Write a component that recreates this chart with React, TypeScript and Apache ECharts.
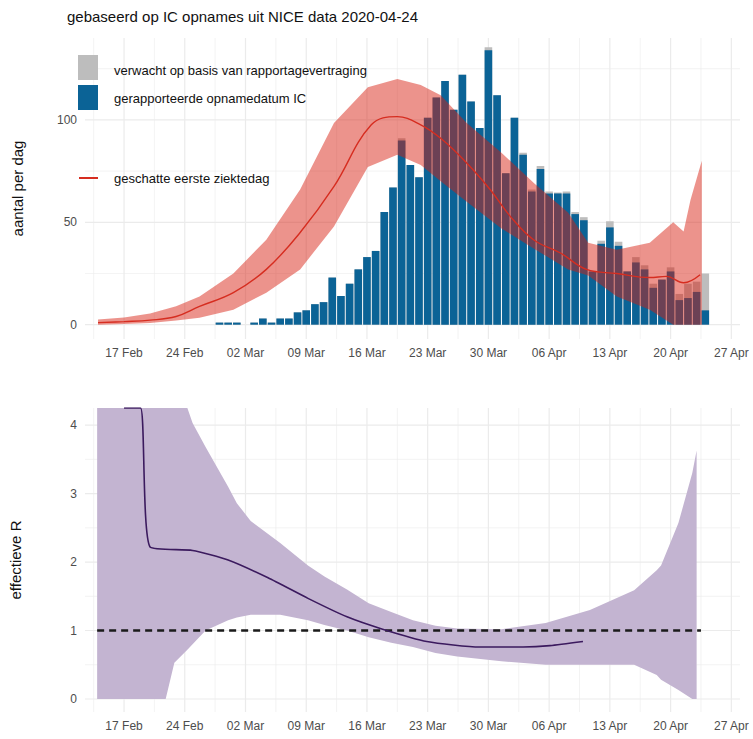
import React, { useEffect, useRef } from "react";
import * as echarts from "echarts";

// day 0 = 17 Feb 2020
const barStartDay = 11; // 28 Feb
const reported = [1,1,1,0,1,3,1,3,3,6,7,10,11,23,14,20,27,33,36,55,67,90,78,72,101,111,119,105,122,109,96,134,112,74,101,83,65,76,64,64,64,54,51,26,39.5,47.5,38.5,26,30.4,27,18,22,26,12,13,16,7];
const expected = [1,1,1,0,1,3,1,3,3,6,7,10,11,23,14,20,27,33,36,55,67,91,78,72,101,111,119,105,122,109,96,135.5,112,74,101,84,66,77.5,65,64.5,65,55,52.5,26,41,50.5,40.5,26,33,29,20,22,28,15,20,21,25];

const onsetDays = [-3,0,3,6,8.7,12.6,16.4,20.3,24.2,28.5,31.5,34.2,36.5,39.5,42.2,44.5,47.2,50.3,53.3,56.8,60.6,62.5,64.5,66.4];
const onsetMid = [1,1.5,2.2,4,8.9,15.6,27,45,67.5,97.6,101.6,97.6,91,79,66,53,41.5,35,27,25,23,23.6,20.5,24.4];
const onsetBandDays = [-3,0,3,6,8.7,12.6,16.4,20.3,24.2,28.1,31.5,34.2,36.5,39.5,43.5,47.3,51.2,53.5,56.8,60.6,63.3,64.5,65.3,66.6];
const onsetHi = [2.5,3.5,5.5,9,13.8,25,41.5,66,98.5,116,120,117,112,98.5,84,69,54.6,40,36.6,40,50,45.5,61,80];
const onsetLo = [0,0.3,0.8,2,3.4,7.3,15.6,27,48,77,83,78,70,60,47,37,27,24,13.8,7.3,0,0,0,0];

const rDays = [0,1.9,3.0,7.9,12,16.6,21.2,25.7,29.8,34.9,41,46,49.1,52.9];
const rMid = [4.25,4.25,2.22,2.17,2.03,1.77,1.47,1.2,1.02,0.84,0.76,0.76,0.78,0.84];
const rBandDays = [-3.1,4.8,5.8,7.3,7.9,9.4,12,13,14.6,18,21.2,23.1,25.7,28.2,30.8,33.3,35.9,38.4,43.5,48.6,53.7,58.8,61.4,61.9,63.9,65.5,66];
const rHi = [4.25,4.25,4.25,4.25,4.03,3.68,3.1,2.86,2.6,2.28,1.95,1.79,1.6,1.4,1.27,1.15,1.07,1.03,1.02,1.11,1.3,1.59,1.88,1.95,2.57,3.3,3.63];
const rLo = [0,0,0.53,0.72,0.8,1.0,1.15,1.19,1.23,1.23,1.15,1.08,1.0,0.9,0.82,0.76,0.67,0.62,0.55,0.5,0.5,0.5,0.35,0.28,0.13,0,0];
const refDays = [-3.1, 66.5];
const refValue = [1, 1];

const weekTicks = [0,7,14,21,28,35,42,49,56,63,70];
const topMajor = [0,50,100];
const topMinor = [25,75,125];
const botMajor = [0,1,2,3,4];
const botMinor = [0.5,1.5,2.5,3.5];

const MONTHS = ["Jan","Feb","Mar","Apr","May"];
function fmtDay(d: number) {
  const dt = new Date(Date.UTC(2020, 1, 17 + d));
  return String(dt.getUTCDate()).padStart(2, "0") + " " + MONTHS[dt.getUTCMonth()];
}

const FONT = "Liberation Sans";
const GRID_C = "#ebebeb";

function gridLines(xi: number, yi: number, yMajor: number[], yMinor: number[], xr: number[], yr: number[]) {
  const vMinor: number[] = [];
  for (let d = -3.5; d <= 70.1; d += 7) vMinor.push(d);
  return {
    type: "custom", xAxisIndex: xi, yAxisIndex: yi, z: 0, silent: true,
    data: [[xr[0], yr[0]]],
    renderItem: (params: any, api: any) => {
      const kids: any[] = [];
      const vline = (v: number, w: number) => {
        const a = api.coord([v, yr[0]]), b = api.coord([v, yr[1]]);
        kids.push({ type: "line", shape: { x1: a[0], y1: a[1], x2: b[0], y2: b[1] }, style: { stroke: GRID_C, lineWidth: w } });
      };
      const hline = (v: number, w: number) => {
        const a = api.coord([xr[0], v]), b = api.coord([xr[1], v]);
        kids.push({ type: "line", shape: { x1: a[0], y1: a[1], x2: b[0], y2: b[1] }, style: { stroke: GRID_C, lineWidth: w } });
      };
      vMinor.forEach((v) => vline(v, 0.6));
      yMinor.forEach((v) => hline(v, 0.6));
      weekTicks.forEach((v) => vline(v, 1.2));
      yMajor.forEach((v) => hline(v, 1.2));
      return { type: "group", children: kids };
    },
  };
}

function band(xi: number, yi: number, xs: number[], lo: number[], hi: number[], color: string, z: number) {
  return {
    type: "custom", xAxisIndex: xi, yAxisIndex: yi, z, silent: true,
    data: xs.map((x, i) => [x, lo[i], hi[i]]),
    encode: { x: 0, y: [1, 2] },
    renderItem: (params: any, api: any) => {
      if (params.dataIndex !== 0) return null;
      const top = xs.map((x, i) => api.coord([x, hi[i]]));
      const bot = xs.map((x, i) => api.coord([x, lo[i]])).reverse();
      return { type: "polygon", shape: { points: [...top, ...bot] }, style: { fill: color } };
    },
  };
}

export default function App() {
  const ref = useRef<HTMLDivElement>(null);
  useEffect(() => {
    document.body.style.margin = "0";
    const chart = echarts.init(ref.current!, null, { renderer: "svg" });
    const xAx = (gi: number) => ({
      type: "value", gridIndex: gi, min: -4.5, max: 71,
      axisLine: { show: false }, axisTick: { show: false }, splitLine: { show: false },
      axisLabel: { customValues: weekTicks, formatter: (v: number) => fmtDay(v), color: "#4d4d4d", fontSize: 12, fontFamily: FONT, margin: 8 },
    });
    const barX = reported.map((_, i) => barStartDay + i);
    chart.setOption({
      animation: false,
      textStyle: { fontFamily: FONT },
      title: { text: "gebaseerd op IC opnames uit NICE data 2020-04-24", left: 62, top: 4, textStyle: { fontSize: 15, fontWeight: "normal", color: "#111", fontFamily: FONT } },
      grid: [
        { left: 85, right: 13, top: 38, height: 301 },
        { left: 85, right: 13, top: 408, height: 304 },
      ],
      xAxis: [xAx(0), xAx(1)],
      yAxis: [
        { type: "value", gridIndex: 0, min: -7, max: 140, splitLine: { show: false }, axisLine: { show: false }, axisTick: { show: false },
          axisLabel: { customValues: topMajor, color: "#4d4d4d", fontSize: 12, fontFamily: FONT },
          name: "aantal per dag", nameLocation: "middle", nameGap: 60, nameTextStyle: { fontSize: 15, color: "#111", fontFamily: FONT } },
        { type: "value", gridIndex: 1, min: -0.19, max: 4.25, splitLine: { show: false }, axisLine: { show: false }, axisTick: { show: false },
          axisLabel: { customValues: botMajor, color: "#4d4d4d", fontSize: 12, fontFamily: FONT },
          name: "effectieve R", nameLocation: "middle", nameGap: 62, nameTextStyle: { fontSize: 15, color: "#111", fontFamily: FONT } },
      ],
      series: [
        gridLines(0, 0, topMajor, topMinor, [-4.5, 71], [-7, 140]),
        gridLines(1, 1, botMajor, botMinor, [-4.5, 71], [-0.19, 4.25]),
        { type: "bar", xAxisIndex: 0, yAxisIndex: 0, data: barX.map((x, i) => [x, expected[i]]), barWidth: 7.6, itemStyle: { color: "#bdbdbd" }, z: 2 },
        { type: "bar", xAxisIndex: 0, yAxisIndex: 0, data: barX.map((x, i) => [x, reported[i]]), barWidth: 7.6, barGap: "-100%", itemStyle: { color: "#0b6396" }, z: 3 },
        band(0, 0, onsetBandDays, onsetLo, onsetHi, "rgba(215,30,15,0.48)", 4),
        { type: "line", xAxisIndex: 0, yAxisIndex: 0, data: onsetDays.map((d, i) => [d, onsetMid[i]]), smooth: 0.4, showSymbol: false, lineStyle: { color: "#d62d20", width: 1.4 }, z: 5 },
        band(1, 1, rBandDays, rLo, rHi, "#c3b4d1", 2),
        { type: "line", xAxisIndex: 1, yAxisIndex: 1, data: refDays.map((d, i) => [d, refValue[i]]), showSymbol: false, lineStyle: { color: "#1a1a1a", width: 2.4, type: [7, 5] }, z: 4 },
        { type: "line", xAxisIndex: 1, yAxisIndex: 1, data: rDays.map((d, i) => [d, rMid[i]]), smooth: 0.2, showSymbol: false, lineStyle: { color: "#3b1a5e", width: 1.6 }, z: 5 },
      ],
      graphic: [
        { type: "rect", shape: { x: 78, y: 55, width: 20, height: 25 }, style: { fill: "#bdbdbd" }, z: 10 },
        { type: "text", x: 114, y: 70, style: { text: "verwacht op basis van rapportagevertraging", fill: "#111", fontSize: 13, fontFamily: FONT, verticalAlign: "middle" }, z: 10 },
        { type: "rect", shape: { x: 78, y: 85, width: 20, height: 25 }, style: { fill: "#0b6396" }, z: 10 },
        { type: "text", x: 114, y: 98, style: { text: "gerapporteerde opnamedatum IC", fill: "#111", fontSize: 13, fontFamily: FONT, verticalAlign: "middle" }, z: 10 },
        { type: "line", shape: { x1: 79, y1: 178, x2: 98, y2: 178 }, style: { stroke: "#d62d20", lineWidth: 2 }, z: 10 },
        { type: "text", x: 114, y: 178, style: { text: "geschatte eerste ziektedag", fill: "#111", fontSize: 13, fontFamily: FONT, verticalAlign: "middle" }, z: 10 },
      ],
    });
    return () => chart.dispose();
  }, []);
  return <div ref={ref} style={{ width: 753, height: 739 }} />;
}
